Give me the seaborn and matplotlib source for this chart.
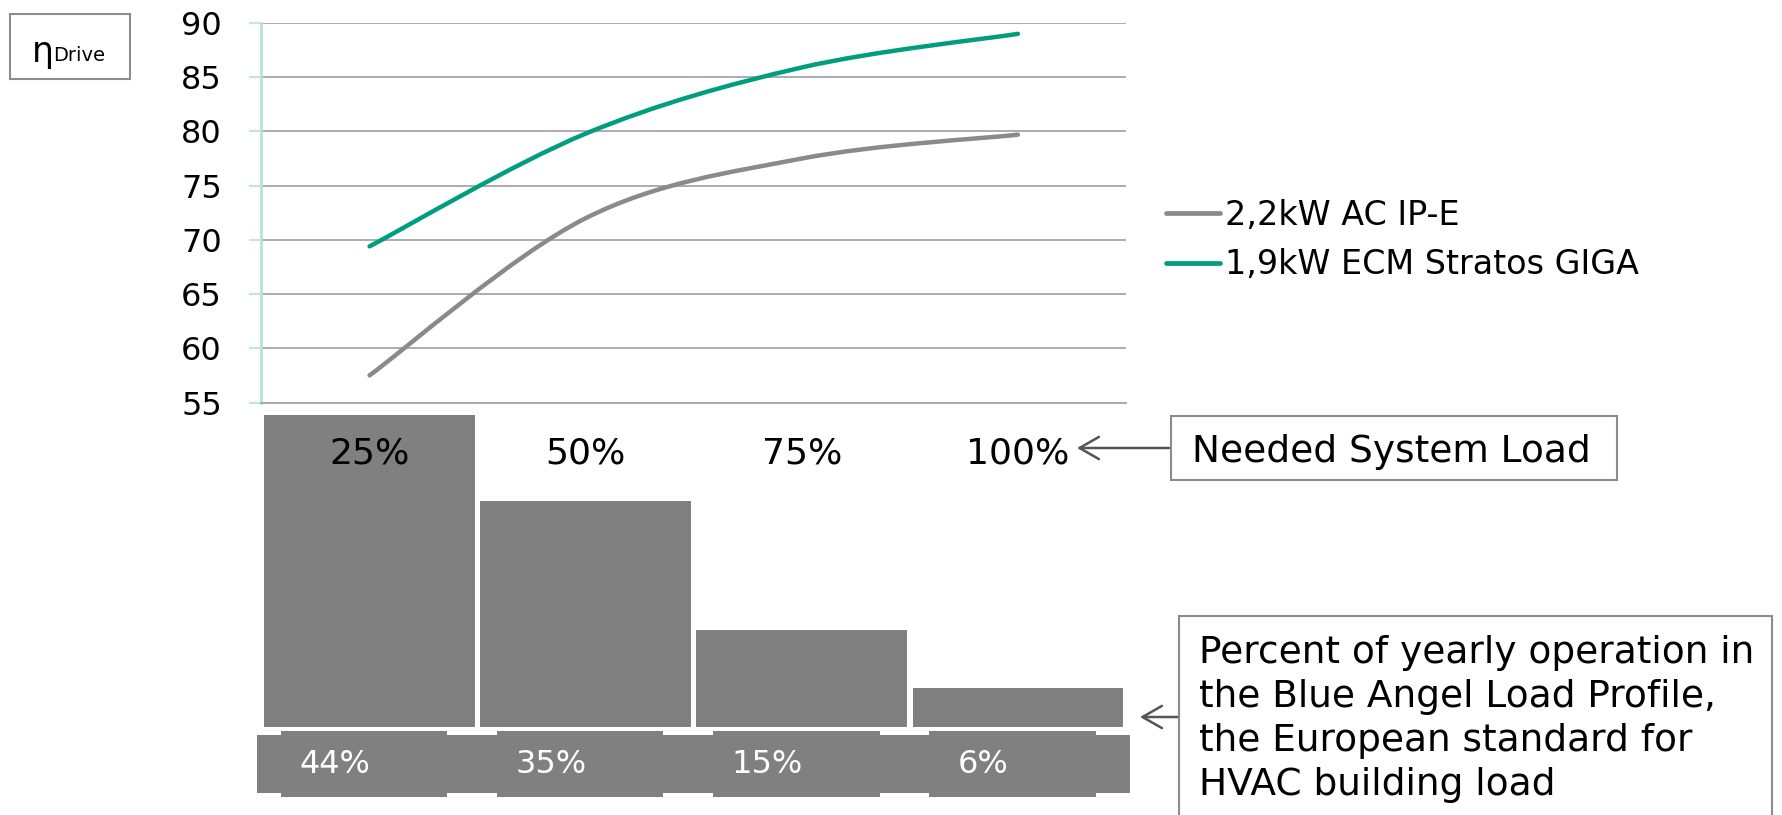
import numpy as np
import pandas as pd
import matplotlib
matplotlib.use('Agg')
import matplotlib.pyplot as plt
import matplotlib.transforms as mtransforms
from matplotlib.path import Path
from matplotlib.patches import PathPatch, Rectangle, FancyArrowPatch
from matplotlib.lines import Line2D
import seaborn as sns

# data
loads = ['25%', '50%', '75%', '100%']
eff_ac = [57.5, 72.0, 77.5, 79.7]       # 2,2kW AC IP-E
eff_ecm = [69.4, 79.8, 85.9, 89.0]      # 1,9kW ECM Stratos GIGA
series_names = ['2,2kW AC IP-E', '1,9kW ECM Stratos GIGA']
share = [44, 35, 15, 6]                 # % of yearly operation
share_labels = ['44%', '35%', '15%', '6%']
yticks = [55, 60, 65, 70, 75, 80, 85, 90]
note_lines = ['Percent of yearly operation in',
              'the Blue Angel Load Profile,',
              'the European standard for',
              'HVAC building load']

GRAY = '#8a8a8a'
GREEN = '#009e7e'
BAR = '#808080'
EDGE = '#8c8c8c'

sns.set_theme(style='white')
plt.rcParams['font.family'] = ['DejaVu Sans']
plt.rcParams['text.color'] = 'black'
plt.rcParams['legend.labelcolor'] = 'black'

W, H = 1783, 815
fig = plt.figure(figsize=(W / 100, H / 100), dpi=100)


def rect(x0, y0, x1, y1):
    # pixel box (top-left origin) -> figure fraction rect
    return [x0 / W, 1 - y1 / H, (x1 - x0) / W, (y1 - y0) / H]


def fy(y):
    return 1 - y / H


# --- bar panel (share of yearly operation) ---
ax_bar = fig.add_axes(rect(261.5, 402.5, 1126, 727))
df = pd.DataFrame({'load': loads, 'share': share})
sns.barplot(data=df, x='load', y='share', color=BAR, saturation=1, width=0.975,
            linewidth=0, ax=ax_bar)
ax_bar.set_xlim(-0.5, 3.5)
ax_bar.set_ylim(0, 50.3)
ax_bar.axis('off')

tr = mtransforms.blended_transform_factory(ax_bar.transData, fig.transFigure)
p0 = ax_bar.patches[0]
# grey block behind the first load label
ax_bar.add_patch(Rectangle((p0.get_x(), fy(503)), p0.get_width(), fy(415) - fy(503),
                           transform=tr, color=BAR, lw=0, clip_on=False, zorder=1))
# label strip under the bars
ax_bar.add_patch(Rectangle((-0.52, fy(793)), 4.04, fy(735) - fy(793), transform=tr,
                           color=BAR, lw=0, clip_on=False))
for i, lab in enumerate(share_labels):
    ax_bar.add_patch(Rectangle((i - 0.41, fy(797)), 0.77, fy(731) - fy(797), transform=tr,
                               color=BAR, lw=0, clip_on=False))
    ax_bar.text(i - 0.16, fy(773), lab, transform=tr, color='white', fontsize=23,
                ha='center', va='baseline')

# --- efficiency curves ---
ax = fig.add_axes(rect(261.5, 23, 1126, 402.5))
ax.set_zorder(3)
ax.patch.set_visible(False)


def smooth_path(xs, ys):
    pts = np.column_stack([xs, ys]).astype(float)
    ext = np.vstack([pts[0], pts, pts[-1]])
    verts, codes = [pts[0]], [Path.MOVETO]
    for i in range(len(pts) - 1):
        a, b, c, d = ext[i], ext[i + 1], ext[i + 2], ext[i + 3]
        verts += [b + (c - a) / 6, c - (d - b) / 6, c]
        codes += [Path.CURVE4] * 3
    return Path(verts, codes)


xpos = np.arange(len(loads))
for vals, col in [(eff_ac, GRAY), (eff_ecm, GREEN)]:
    ax.add_patch(PathPatch(smooth_path(xpos, vals), fill=False, edgecolor=col,
                           lw=3.2, capstyle='round', zorder=4))

ax.set_xlim(-0.5, 3.5)
ax.set_ylim(55, 90)
ax.set_yticks(yticks)
ax.yaxis.grid(True, color='#a6a6a6', lw=1.3)
ax.set_axisbelow(True)
ax.set_xticks(xpos)
ax.set_xticklabels(loads)
ax.set_xticks(np.arange(-0.5, 4, 1), minor=True)
ax.tick_params(axis='x', which='major', length=0, pad=24.5, labelsize=26, labelcolor='black')
ax.tick_params(axis='x', which='minor', length=8.6, width=1.2, color='#a6a6a6', direction='out')
ax.tick_params(axis='y', length=8.6, width=1.5, color='#bfe9da', pad=20, labelsize=23,
               labelcolor='black', left=True)
for s in ['top', 'right']:
    ax.spines[s].set_visible(False)
ax.spines['left'].set_color('#b5e5d5')
ax.spines['left'].set_linewidth(2)
ax.spines['bottom'].set_color('#a6a6a6')
ax.spines['bottom'].set_linewidth(1.3)

handles = [Line2D([], [], color=GRAY, lw=3.4, solid_capstyle='round'),
           Line2D([], [], color=GREEN, lw=3.4, solid_capstyle='round')]
ax.legend(handles, series_names, loc='center left', bbox_to_anchor=(1166 / W, fy(240)),
          bbox_transform=fig.transFigure, frameon=False, fontsize=24, handlelength=1.62,
          handletextpad=0.15, borderpad=0, borderaxespad=0, labelspacing=0.49)

# --- annotation boxes ---
fig.patches.append(Rectangle((10 / W, fy(79)), 120 / W, fy(14) - fy(79),
                             transform=fig.transFigure, fill=False, ec=EDGE, lw=1.5))
fig.text(32 / W, fy(62), 'η', fontsize=25, ha='left', va='baseline')
fig.text(53 / W, fy(61), 'Drive', fontsize=14, ha='left', va='baseline')

fig.patches.append(Rectangle((1171 / W, fy(480)), 446 / W, fy(416) - fy(480),
                             transform=fig.transFigure, fill=False, ec=EDGE, lw=1.5))
fig.text(1192 / W, fy(462), 'Needed System Load', fontsize=27, ha='left', va='baseline')

fig.patches.append(Rectangle((1179 / W, fy(830)), 593 / W, fy(616) - fy(830),
                             transform=fig.transFigure, fill=False, ec=EDGE, lw=1.5))
for k, line in enumerate(note_lines):
    fig.text(1199 / W, fy(663 + 44 * k), line, fontsize=27, ha='left', va='baseline')

arrow = dict(arrowstyle='->,head_length=0.7,head_width=0.4', color='#555555', lw=1.8,
             shrinkA=0, shrinkB=0, mutation_scale=20)
fig.add_artist(FancyArrowPatch((1171 / W, fy(448)), (1077 / W, fy(448)),
                               transform=fig.transFigure, **arrow))
fig.add_artist(FancyArrowPatch((1179 / W, fy(717)), (1140 / W, fy(717)),
                               transform=fig.transFigure, **arrow))

fig.savefig('out.png', dpi=100)
